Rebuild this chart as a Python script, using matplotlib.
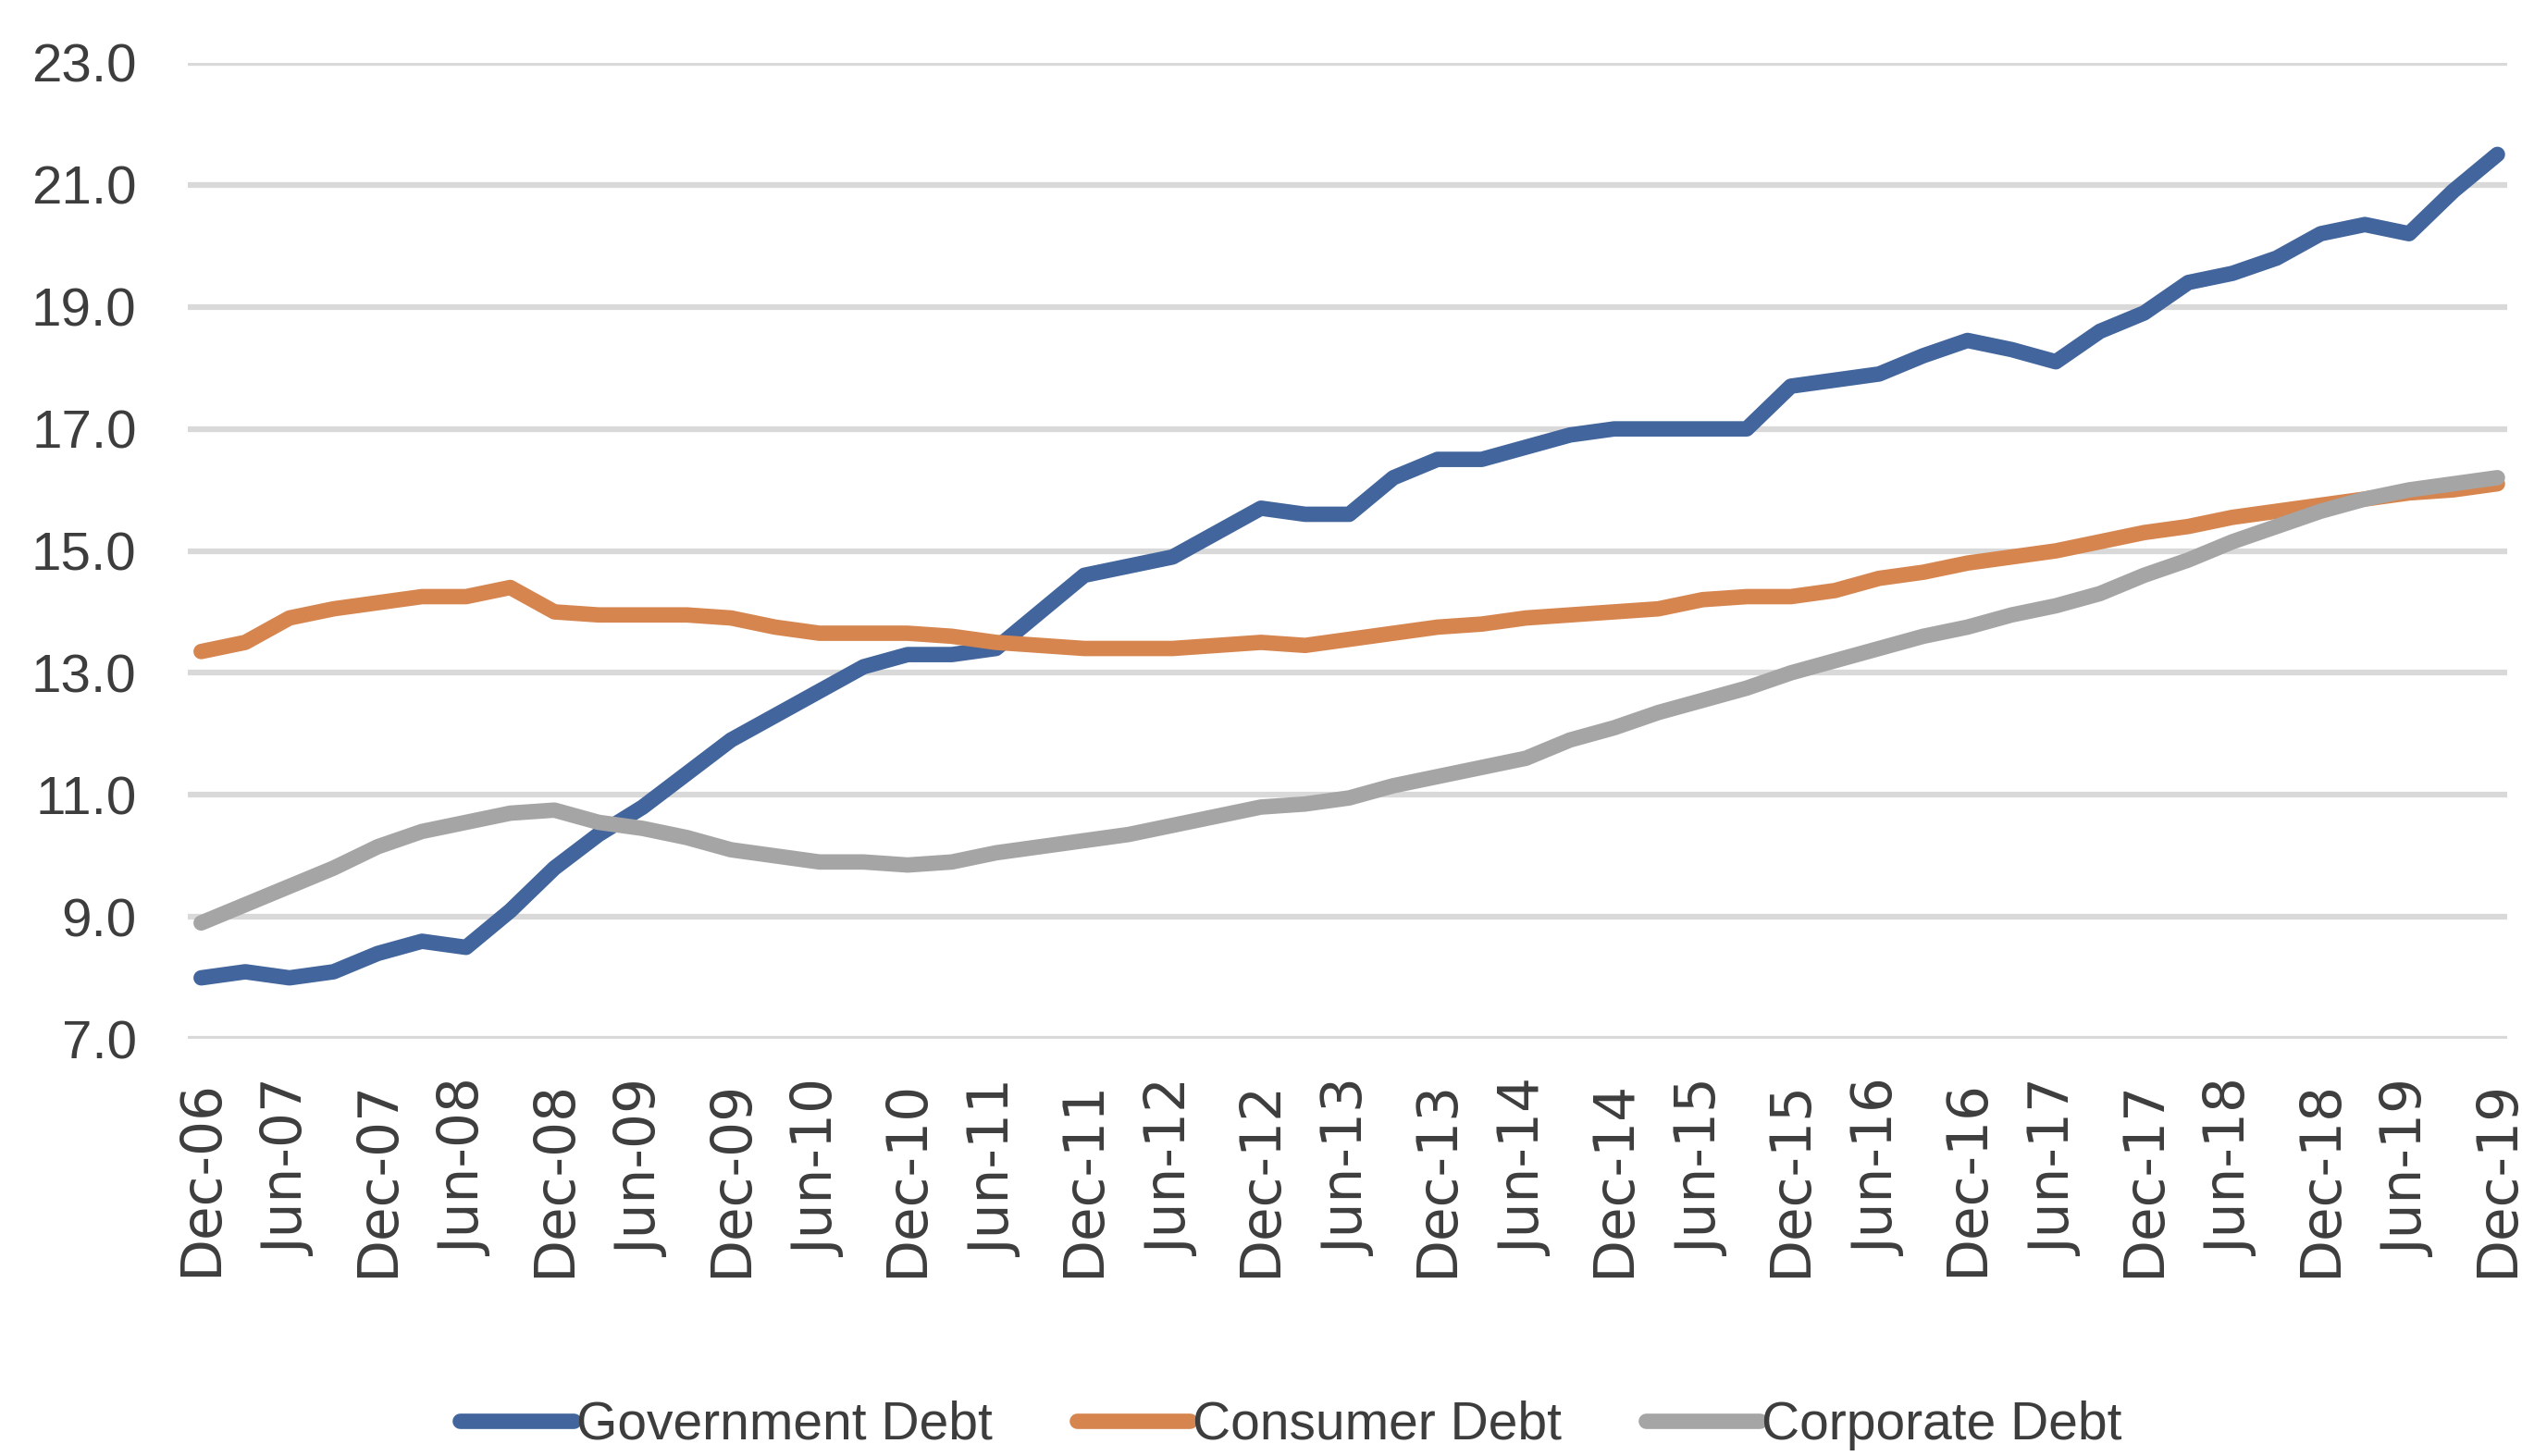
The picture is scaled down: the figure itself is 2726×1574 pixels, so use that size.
import matplotlib
matplotlib.use("Agg")
import matplotlib.pyplot as plt

# Quarterly debt series, Dec-2006 to Dec-2019
quarters = [
    "Dec-06", "Mar-07", "Jun-07", "Sep-07", "Dec-07", "Mar-08", "Jun-08", "Sep-08",
    "Dec-08", "Mar-09", "Jun-09", "Sep-09", "Dec-09", "Mar-10", "Jun-10", "Sep-10",
    "Dec-10", "Mar-11", "Jun-11", "Sep-11", "Dec-11", "Mar-12", "Jun-12", "Sep-12",
    "Dec-12", "Mar-13", "Jun-13", "Sep-13", "Dec-13", "Mar-14", "Jun-14", "Sep-14",
    "Dec-14", "Mar-15", "Jun-15", "Sep-15", "Dec-15", "Mar-16", "Jun-16", "Sep-16",
    "Dec-16", "Mar-17", "Jun-17", "Sep-17", "Dec-17", "Mar-18", "Jun-18", "Sep-18",
    "Dec-18", "Mar-19", "Jun-19", "Sep-19", "Dec-19",
]

government_debt = [
    8.0, 8.1, 8.0, 8.1, 8.4, 8.6, 8.5, 9.1,
    9.8, 10.35, 10.8, 11.35, 11.9, 12.3, 12.7, 13.1,
    13.3, 13.3, 13.4, 14.0, 14.6, 14.75, 14.9, 15.3,
    15.7, 15.6, 15.6, 16.2, 16.5, 16.5, 16.7, 16.9,
    17.0, 17.0, 17.0, 17.0, 17.7, 17.8, 17.9, 18.2,
    18.45, 18.3, 18.1, 18.6, 18.9, 19.4, 19.55, 19.8,
    20.2, 20.35, 20.2, 20.9, 21.5,
]

consumer_debt = [
    13.35, 13.5, 13.9, 14.05, 14.15, 14.25, 14.25, 14.4,
    14.0, 13.95, 13.95, 13.95, 13.9, 13.75, 13.65, 13.65,
    13.65, 13.6, 13.5, 13.45, 13.4, 13.4, 13.4, 13.45,
    13.5, 13.45, 13.55, 13.65, 13.75, 13.8, 13.9, 13.95,
    14.0, 14.05, 14.2, 14.25, 14.25, 14.35, 14.55, 14.65,
    14.8, 14.9, 15.0, 15.15, 15.3, 15.4, 15.55, 15.65,
    15.75, 15.85, 15.95, 16.0, 16.1,
]

corporate_debt = [
    8.9, 9.2, 9.5, 9.8, 10.15, 10.4, 10.55, 10.7,
    10.75, 10.55, 10.45, 10.3, 10.1, 10.0, 9.9, 9.9,
    9.85, 9.9, 10.05, 10.15, 10.25, 10.35, 10.5, 10.65,
    10.8, 10.85, 10.95, 11.15, 11.3, 11.45, 11.6, 11.9,
    12.1, 12.35, 12.55, 12.75, 13.0, 13.2, 13.4, 13.6,
    13.75, 13.95, 14.1, 14.3, 14.6, 14.85, 15.15, 15.4,
    15.65, 15.85, 16.0, 16.1, 16.2,
]

series_names = ["Government Debt", "Consumer Debt", "Corporate Debt"]
series_colors = ["#41659c", "#d6854f", "#a5a5a5"]
y_ticks = [7, 9, 11, 13, 15, 17, 19, 21, 23]

text_color = "#3d3d3d"
label_font = "Liberation Sans"

fig = plt.figure(figsize=(27.26, 15.74), dpi=100)
ax = fig.add_axes([0.0745, 0.2865, 0.9196, 0.6703])

x = list(range(len(quarters)))
handles = []
for values, name, color in zip([government_debt, consumer_debt, corporate_debt],
                               series_names, series_colors):
    h, = ax.plot(x, values, color=color, lw=12, label=name,
                 solid_joinstyle="round", solid_capstyle="round")
    handles.append(h)

ax.set_ylim(7, 23)
ax.set_xlim(-0.3, len(quarters) - 1 + 0.22)
ax.set_yticks(y_ticks)
ax.set_yticklabels([f"{v:.1f}" for v in y_ticks], fontfamily=label_font,
                   fontsize=42, color=text_color)

tick_pos = x[::2]
ax.set_xticks(tick_pos)
ax.set_xticklabels([quarters[i] for i in tick_pos], rotation=90,
                   fontfamily="DejaVu Sans", fontsize=43, color=text_color,
                   va="top", ha="center")

ax.tick_params(axis="both", length=0)
ax.tick_params(axis="y", pad=40)
ax.tick_params(axis="x", pad=32)

ax.grid(axis="y", color="#d9d9d9", lw=4.5)
ax.grid(axis="x", visible=False)
ax.set_axisbelow(True)
for side in ax.spines.values():
    side.set_visible(False)

fig.legend(handles=handles, labels=series_names, loc="center",
           bbox_to_anchor=(0.512, 0.021), ncol=3, frameon=False,
           prop={"family": label_font, "size": 41}, labelcolor=text_color,
           handlelength=2.15, handletextpad=0.05, columnspacing=1.6,
           borderaxespad=0, borderpad=0)

fig.savefig("out.png", dpi=100, facecolor="white")
